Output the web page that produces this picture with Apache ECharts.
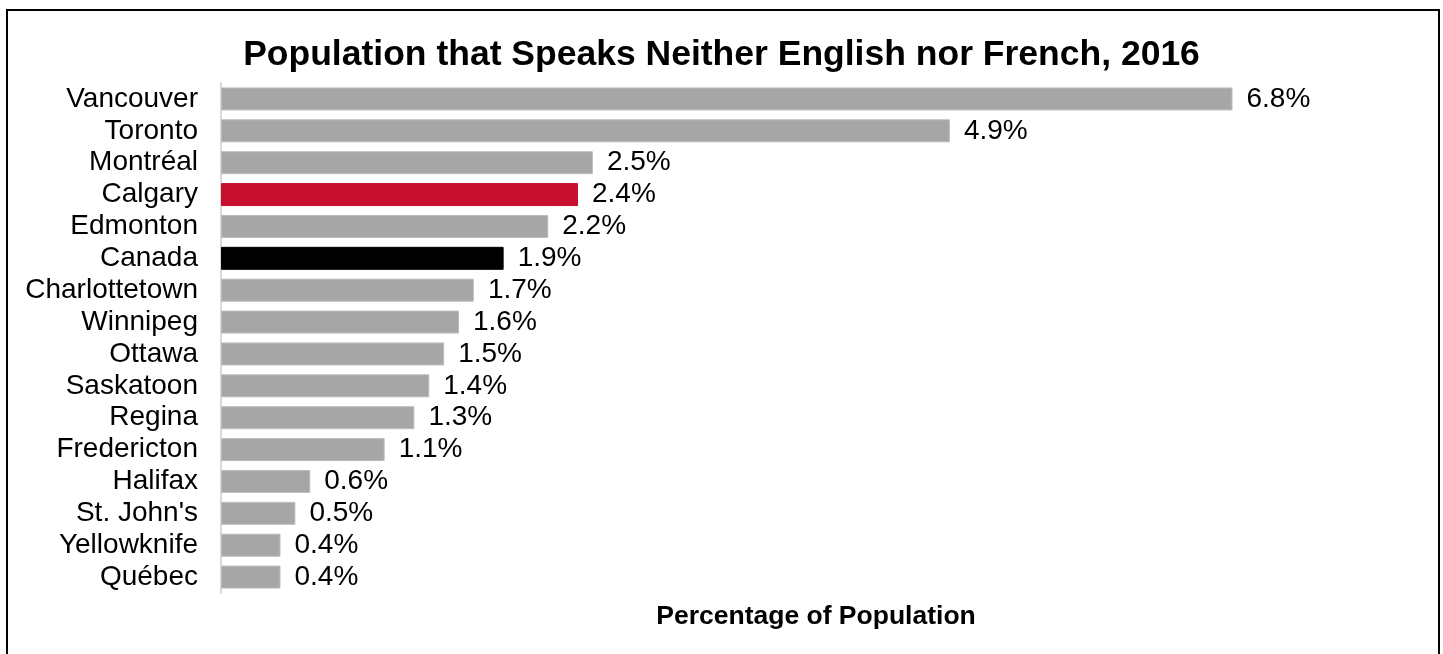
<!DOCTYPE html>
<html>
<head>
<meta charset="utf-8">
<script src="https://cdn.jsdelivr.net/npm/echarts@6/dist/echarts.min.js"></script>
<style>
  html, body { margin: 0; padding: 0; background: #fff; }
  #chart { width: 1443px; height: 654px; }
</style>
</head>
<body>
<div id="chart"></div>
<script>
// Share of residents who speak neither official language, 2016 Census
const cities = ['Vancouver', 'Toronto', 'Montréal', 'Calgary', 'Edmonton', 'Canada',
  'Charlottetown', 'Winnipeg', 'Ottawa', 'Saskatoon', 'Regina', 'Fredericton',
  'Halifax', "St. John's", 'Yellowknife', 'Québec'];
const percentages = [6.8, 4.9, 2.5, 2.4, 2.2, 1.9, 1.7, 1.6, 1.5, 1.4, 1.3, 1.1, 0.6, 0.5, 0.4, 0.4];

const FONT = '"Liberation Sans", Arial, Helvetica, sans-serif';
const BASE_COLOR = '#a6a6a6';
const highlightColors = { 'Calgary': '#c8102e', 'Canada': '#000000' };

const seriesData = percentages.map((v, i) => {
  const c = highlightColors[cities[i]];
  return c ? { value: v, itemStyle: { color: c, borderColor: c } } : v;
});

const chart = echarts.init(document.getElementById('chart'), null, { renderer: 'canvas' });
chart.setOption({
  animation: false,
  backgroundColor: '#ffffff',
  title: {
    text: 'Population that Speaks Neither English nor French, 2016',
    left: 'center',
    top: 32,
    textStyle: { fontFamily: FONT, fontSize: 35.5, fontWeight: 'bold', color: '#000' }
  },
  graphic: [{
    type: 'rect',
    shape: { x: 7, y: 10, width: 1432, height: 700 },
    style: { fill: 'none', stroke: '#000', lineWidth: 2 },
    silent: true
  }],
  grid: { left: 221, right: 32, top: 83, bottom: 61, containLabel: false },
  xAxis: {
    type: 'value',
    min: 0,
    max: 8,
    name: 'Percentage of Population',
    nameLocation: 'middle',
    nameGap: 10,
    nameTextStyle: { fontFamily: FONT, fontSize: 26.5, fontWeight: 'bold', color: '#000', verticalAlign: 'top' },
    axisLine: { show: false },
    axisTick: { show: false },
    axisLabel: { show: false },
    splitLine: { show: false }
  },
  yAxis: {
    type: 'category',
    data: cities,
    inverse: true,
    axisLine: { show: true, lineStyle: { color: '#d9d9d9', width: 2 } },
    axisTick: { show: false },
    axisLabel: { interval: 0, fontFamily: FONT, fontSize: 28, color: '#000', margin: 23 }
  },
  series: [{
    type: 'bar',
    data: seriesData,
    barWidth: 23,
    itemStyle: { color: BASE_COLOR, borderColor: '#bdbdbd', borderWidth: 1 },
    label: {
      show: true,
      position: 'right',
      distance: 14,
      fontFamily: FONT,
      fontSize: 28,
      color: '#000',
      formatter: p => p.value.toFixed(1) + '%'
    }
  }]
});
</script>
</body>
</html>
